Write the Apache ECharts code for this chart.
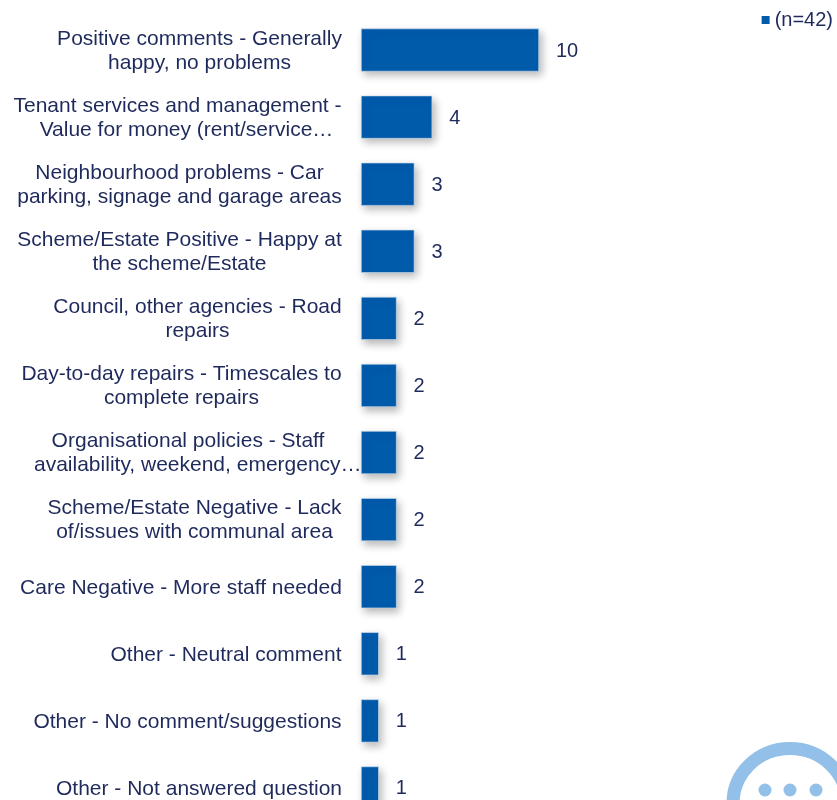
<!DOCTYPE html>
<html><head><meta charset="utf-8">
<style>html,body{margin:0;padding:0;background:#fff}#c{width:837px;height:800px}</style>
<script src="https://cdn.jsdelivr.net/npm/echarts@6/dist/echarts.min.js"></script>
</head><body><div id="c"></div>
<script>
const categories = [
 "Positive comments - Generally\nhappy, no problems",
 "Tenant services and management -\nValue for money (rent/service…",
 "Neighbourhood problems - Car\nparking, signage and garage areas",
 "Scheme/Estate Positive - Happy at\nthe scheme/Estate",
 "Council, other agencies - Road\nrepairs",
 "Day-to-day repairs - Timescales to\ncomplete repairs",
 "Organisational policies - Staff\navailability, weekend, emergency…",
 "Scheme/Estate Negative - Lack\nof/issues with communal area",
 "Care Negative - More staff needed",
 "Other - Neutral comment",
 "Other - No comment/suggestions",
 "Other - Not answered question"
];
const values = [10,4,3,3,2,2,2,2,2,1,1,1];
const seriesName = "(n=42)";
const FONT = "Liberation Sans", SIZE = 21, INK = "#1f2a5c", BLUE = "#005bab";

const ctx = document.createElement('canvas').getContext('2d');
ctx.font = SIZE + 'px "' + FONT + '"';
const rich = {};
const labelData = categories.map((c, i) => {
  const lines = c.split('\n');
  const widths = lines.map(l => Math.ceil(ctx.measureText(l).width));
  let w = 0;
  lines.forEach((l, j) => { w = Math.max(w, l.endsWith('…') ? widths[j] - 20 : widths[j]); });
  const text = lines.map((l, j) => {
    const key = 'l' + i + '_' + j;
    const hang = l.endsWith('…');
    const overflow = hang && widths[j] > w - 18;
    rich[key] = {width: hang ? w - 18 : w, align: overflow ? 'left' : 'center', fontFamily: FONT, fontSize: SIZE, color: INK, lineHeight: 24,
      padding: hang ? [0, 0, 0, 18] : 0};
    if (overflow) { rich[key].width = w; rich[key].padding = 0; }
    return '{' + key + '|' + l + '}';
  }).join('\n');
  return text;
});

const chart = echarts.init(document.getElementById('c'), null, {renderer: 'canvas'});
chart.setOption({
  animation: false,
  backgroundColor: '#fff',
  legend: {
    top: 5, right: -1, itemWidth: 8, itemHeight: 8, itemGap: 5, icon: 'rect',
    itemStyle: {borderWidth: 0, shadowBlur: 0, shadowOffsetX: 0, shadowOffsetY: 0},
    textStyle: {fontFamily: FONT, fontSize: 20, color: INK, padding: [2,0,0,0]},
    data: [seriesName]
  },
  grid: {left: 361, top: 16.5, width: 356, height: 805, outerBoundsMode: 'none'},
  xAxis: {type: 'value', min: 0, max: 20, show: false},
  yAxis: {
    type: 'category', inverse: true, data: labelData,
    axisLine: {show: false}, axisTick: {show: false},
    axisLabel: {interval: 0, margin: 19, rich: rich, align: 'right', padding: [2,0,0,0]}
  },
  series: [{
    name: seriesName, type: 'bar', data: values, barWidth: 43,
    itemStyle: {color: BLUE, borderColor: '#cfe0f0', borderWidth: 0.6,
      shadowColor: 'rgba(0,0,0,0.28)', shadowBlur: 8, shadowOffsetX: 3, shadowOffsetY: 4},
    label: {show: true, position: 'right', distance: 17, offset: [0, 1], fontFamily: FONT, fontSize: 20, color: INK}
  }],
  graphic: [
    {type: 'ellipse', shape: {cx: 790, cy: 803, rx: 57, ry: 54.5}, style: {fill: 'none', stroke: '#93c0e8', lineWidth: 13}},
    {type: 'circle', shape: {cx: 765, cy: 790, r: 6.5}, style: {fill: '#93c0e8'}},
    {type: 'circle', shape: {cx: 790, cy: 790, r: 6.5}, style: {fill: '#93c0e8'}},
    {type: 'circle', shape: {cx: 816, cy: 790, r: 6.5}, style: {fill: '#93c0e8'}}
  ]
});
</script></body></html>
